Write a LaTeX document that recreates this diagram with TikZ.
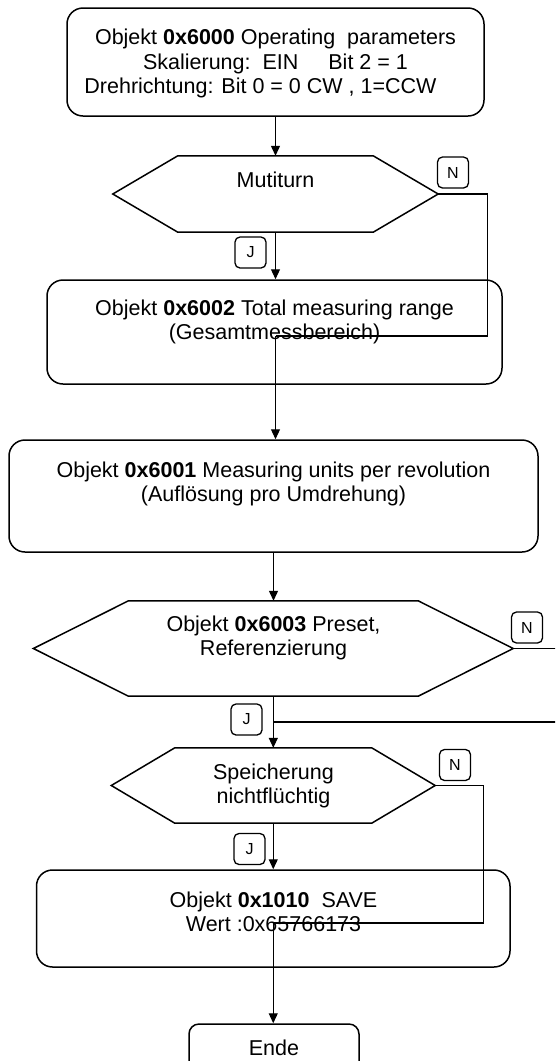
\documentclass[tikz,border=0pt]{standalone}
\usepackage{fontspec}
\setmainfont{Liberation Sans}
\usetikzlibrary{arrows.meta,calc}

% hexagonal decision outline drawn around an empty sizing node
\newcommand\hexoutline[2]{%
  \draw[line width=1.5pt] (#1.west) -- ($(#1.north west)+(#2,0)$)
    -- ($(#1.north east)+(-#2,0)$) -- (#1.east)
    -- ($(#1.south east)+(-#2,0)$) -- ($(#1.south west)+(#2,0)$) -- cycle;}

\begin{document}
\begin{tikzpicture}[x=1pt,y=-1pt,
  box/.style={draw, line width=1.5pt, rounded corners=16pt, inner sep=0pt},
  frame/.style={inner sep=0pt},
  txt/.style={align=center, inner sep=0pt, font=\fontsize{21.5}{24.5}\selectfont},
  tag/.style={draw, line width=1.3pt, rounded corners=5pt, minimum width=31pt,
    minimum height=31pt, inner sep=0pt, font=\fontsize{16}{18}\selectfont},
  flow/.style={line width=1.2pt},
  arr/.style={flow, -{Triangle[length=10pt,width=9pt]}}]

\fill[white] (0,0) rectangle (555,1061);
\useasboundingbox (0,0) rectangle (555,1061);
\clip (0,0) rectangle (555,1061);

% process boxes
\node[box, minimum width=417pt, minimum height=108pt] (b1) at (275.5,62) {};
\node[box, minimum width=455pt, minimum height=104pt] (b2) at (274.5,332) {};
\node[box, minimum width=529pt, minimum height=112pt] (b3) at (273.5,496) {};
\node[box, minimum width=473.5pt, minimum height=97pt] (b4) at (273.25,918.5) {};
\node[box, rounded corners=10pt, minimum width=170pt, minimum height=70pt] (e) at (274,1059) {};

% decisions
\node[frame, minimum width=325pt, minimum height=76pt] (h1) at (275.5,194) {};
\hexoutline{h1}{65}
\node[frame, minimum width=479.4pt, minimum height=95pt] (h2) at (273.3,648.5) {};
\hexoutline{h2}{95}
\node[frame, minimum width=323.5pt, minimum height=75pt] (h3) at (273.25,785.5) {};
\hexoutline{h3}{63.5}

% texts
\node[txt] (t1) at (275.5,63.5) {Objekt \textbf{0x6000} Operating\ \ parameters\\
  Skalierung:\ \ EIN\hspace{30pt}Bit 2 = 1\\
  Drehrichtung: Bit 0 = 0 CW , 1=CCW\hspace*{30pt}};
\node[txt] (t2) at (275.5,180) {Mutiturn};
\node[txt] (t3) at (274.5,322) {Objekt \textbf{0x6002} Total measuring range\\(Gesamtmessbereich)};
\node[txt] (t4) at (273.5,484) {Objekt \textbf{0x6001} Measuring units per revolution\\(Auflösung pro Umdrehung)};
\node[txt] (t5) at (273.5,638) {Objekt \textbf{0x6003} Preset,\\Referenzierung};
\node[txt] (t6) at (273.5,786) {Speicherung\\nichtflüchtig};
\node[txt] (t7) at (273.5,912) {Objekt \textbf{0x1010}\ \ SAVE\\Wert :0x65766173};
\node[txt] (t8) at (274,1048) {Ende};

% yes / no tags
\node[tag] (n1) at (453,172.5) {N};
\node[tag] (j1t) at (250.5,252.5) {J};
\node[tag] (n2) at (527,627.5) {N};
\node[tag] (j2t) at (246.5,719.5) {J};
\node[tag] (n3) at (455,765) {N};
\node[tag] (j3t) at (249.5,849) {J};

% junctions where the "N" branches rejoin the main line
\coordinate (j1) at (275.5,336);
\coordinate (j2) at (273.3,722);
\coordinate (j3) at (273.25,923);

% connectors
\draw[arr] (b1.south) -- (b1.south |- h1.north);
\draw[arr] (h1.south) -- (h1.south |- b2.north);
\draw[flow] (h1.east) -- ++(49,0) |- (j1);
\draw[arr] (j1) -- (j1 |- b3.north);
\draw[arr] (b3.south) -- (b3.south |- h2.north);
\draw[flow] (h2.east) -- ++(80,0) |- (j2);
\draw[arr] (h2.south) -- (h2.south |- h3.north);
\draw[flow] (h3.east) -- ++(48,0) |- (j3);
\draw[arr] (h3.south) -- (h3.south |- b4.north);
\draw[arr] (j3) -- (j3 |- e.north);
\end{tikzpicture}
\end{document}
